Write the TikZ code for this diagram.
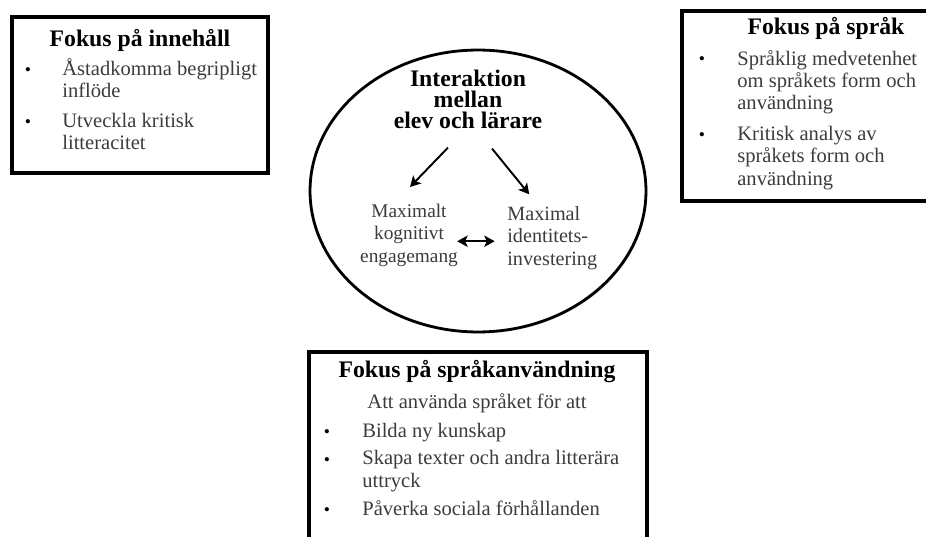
\documentclass[tikz,border=0pt]{standalone}
\usepackage{fontspec}
\setmainfont{Liberation Serif}
\usetikzlibrary{positioning,arrows.meta,shadows}
\definecolor{bodytext}{HTML}{3C3C3C}

\begin{document}
\begin{tikzpicture}[x=0.02cm, y=-0.02cm,
    frame/.style={draw=black, line width=2.2pt, fill=white,
                  drop shadow={shadow xshift=0.8pt, shadow yshift=-0.8pt, opacity=0.3}},
    title/.style={font=\fontsize{13.5}{12}\selectfont\bfseries, anchor=base, inner sep=0pt},
    item/.style={font=\fontsize{11.7}{12.6}\selectfont, text=bodytext, align=left,
                 anchor=base west, inner sep=0pt},
    dot/.style={font=\fontsize{10}{12}\selectfont, anchor=base, inner sep=0pt},
    arr/.style={-{Stealth[length=6pt, width=6.5pt, inset=1.5pt]}, line width=1.1pt},
    dbl/.style={{Stealth[length=6pt, width=6.5pt, inset=1.5pt]}-{Stealth[length=6pt, width=6.5pt, inset=1.5pt]}, line width=1.3pt},
]
\useasboundingbox (0,0) rectangle (926,537);

% Ramar
\draw[frame] (12,17) rectangle (268,173);
\draw[frame] (682,11) rectangle (945,201);
\draw[frame] (309,352) rectangle (647,570);
\draw[line width=1.6pt, fill=white,
      drop shadow={shadow xshift=0.8pt, shadow yshift=-0.8pt, opacity=0.3}]
    (478,191) ellipse [x radius=3.36cm, y radius=2.82cm];

% Vänster: Fokus på innehåll
\node[title] (inhall) at (140,47) {Fokus på innehåll};
\node[dot] at (28,76) {•};
\node[item] (inhall1) at (62,98) {Åstadkomma begripligt\\inflöde};
\node[dot] at (28,128) {•};
\node[item] (inhall2) at (62,150) {Utveckla kritisk\\litteracitet};

% Höger: Fokus på språk
\node[title] (sprak) at (826,35) {Fokus på språk};
\node[dot] at (702,65) {•};
\node[item] (sprak1) at (737,110) {Språklig medvetenhet\\om språkets form och\\användning};
\node[dot] at (702,140) {•};
\node[item] (sprak2) at (737,185) {Kritisk analys av\\språkets form och\\användning};

% Nedre: Fokus på språkanvändning
\node[title] (anv) at (477,377) {Fokus på språkanvändning};
\node[item, anchor=base] (anv0) at (477,408) {Att använda språket för att};
\node[dot] at (327,437) {•};
\node[item] (anv1) at (362,437) {Bilda ny kunskap};
\node[dot] at (327,465) {•};
\node[item] (anv2) at (362,487) {Skapa texter och andra litterära\\uttryck};
\node[dot] at (327,515) {•};
\node[item] (anv3) at (362,515) {Påverka sociala förhållanden};

% Mitten: ellipsen
\node[title, align=center, font=\fontsize{13.5}{12}\selectfont\bfseries] (inter) at (468,129)
    {Interaktion\\mellan\\elev och lärare};
\node[item, align=center, anchor=base, font=\fontsize{11}{12.6}\selectfont] (kog) at (409,262)
    {Maximalt\\kognitivt\\engagemang};
\node[item, font=\fontsize{11.5}{12.6}\selectfont] (ident) at (507,265)
    {Maximal\\identitets-\\investering};

% Pilar
\draw[arr] ([shift={(-20,18)}]inter.south) -- ([shift={(1,-17)}]kog.north);
\draw[arr] ([shift={(24,19)}]inter.south) -- ([shift={(-23,-12)}]ident.north);
\coordinate (dblL) at ([shift={(-1,6)}]kog.east);
\draw[dbl] (dblL) -- ([xshift=-7]dblL -| ident.west);

\end{tikzpicture}
\end{document}
